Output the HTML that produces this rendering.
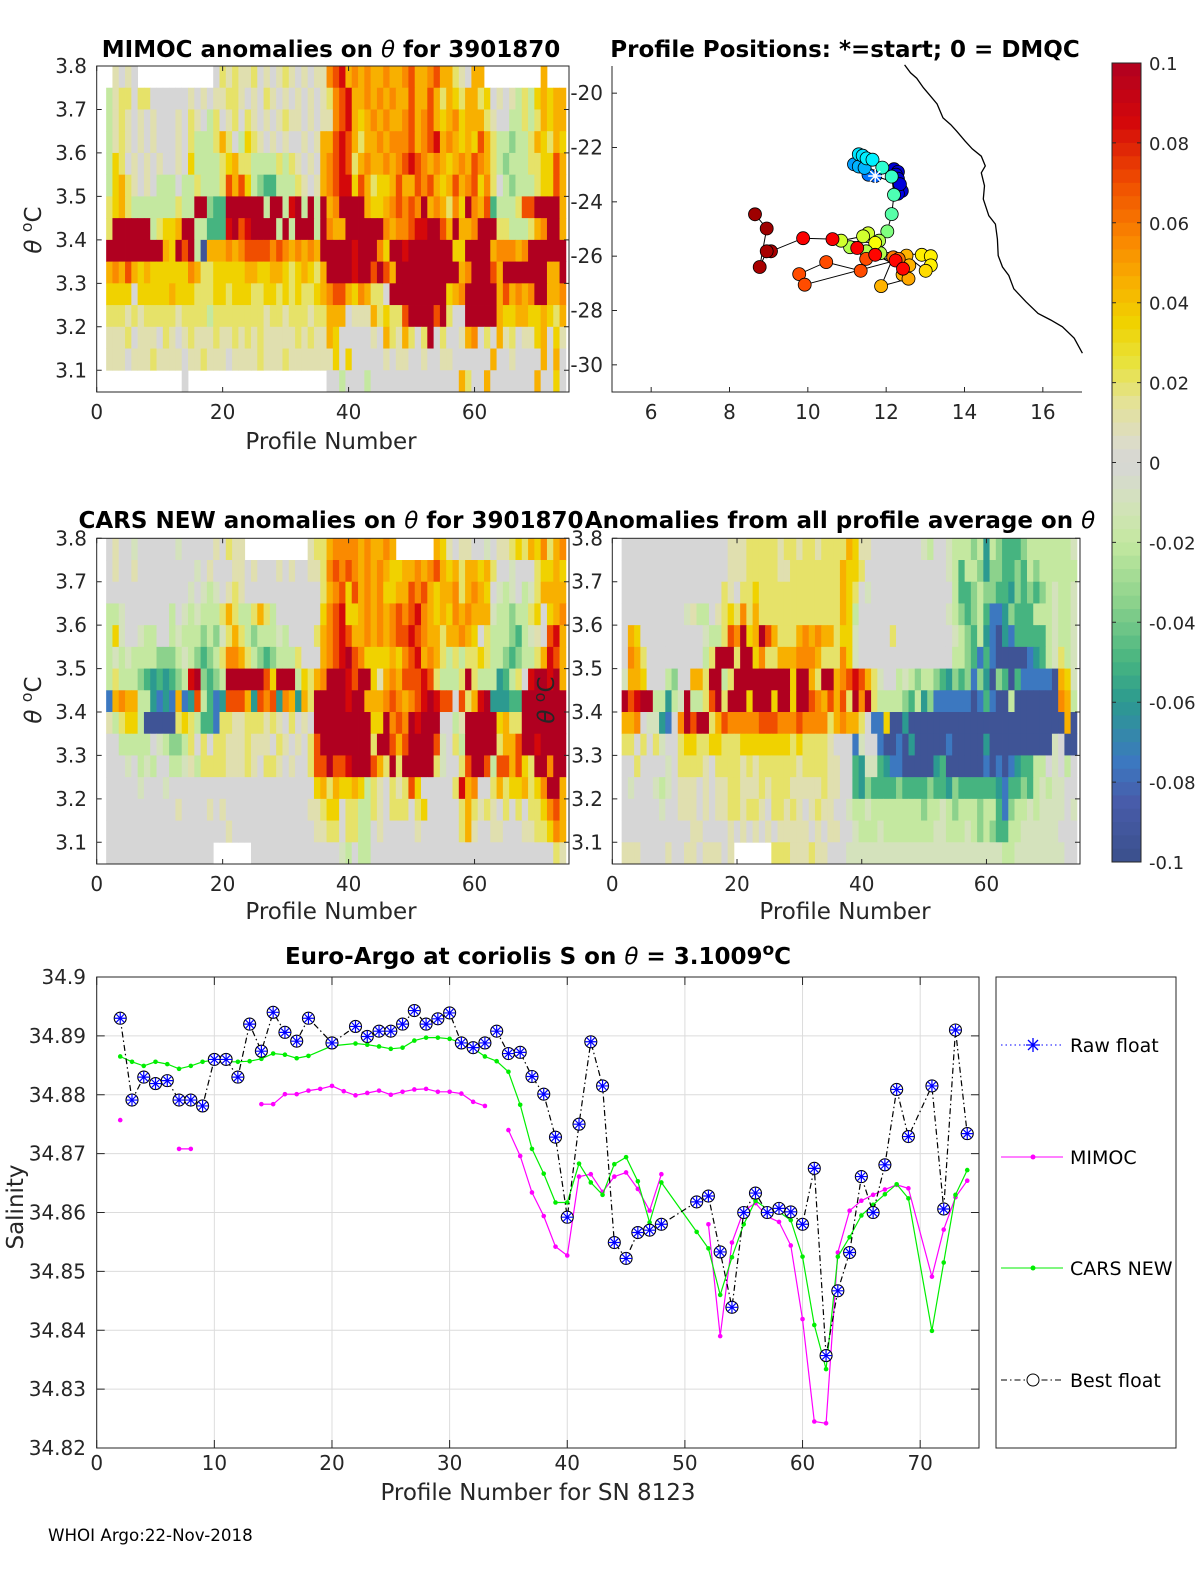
<!DOCTYPE html>
<html><head><meta charset="utf-8">
<style>
body{margin:0;background:#fff}
svg{display:block;font-family:"DejaVu Sans","Liberation Sans",sans-serif}
.t{font-size:20px;fill:#262626}
.al{font-size:23px;fill:#262626}
.tb{font-size:23px;font-weight:bold;fill:#000}
.cb{font-size:18px;fill:#262626}
</style></head>
<body>
<svg id="fig" width="1200" height="1575" viewBox="0 0 1200 1575" xmlns="http://www.w3.org/2000/svg">
<rect x="0" y="0" width="1200" height="1575" fill="#fff"/>
<g id="heat1"></g>
<g id="heat2"></g>
<g id="heat3"></g>
<g id="mapg"></g>
<g id="cbar"></g>
<g id="bottom"></g>
<g id="axes"></g>

<text class="tb" x="331" y="57" text-anchor="middle">MIMOC anomalies on <tspan font-style="italic" font-weight="normal">θ</tspan>  for 3901870</text>
<text class="tb" x="845" y="57" text-anchor="middle">Profile Positions: *=start; 0 = DMQC</text>
<text class="tb" x="331" y="528" text-anchor="middle">CARS NEW anomalies on <tspan font-style="italic" font-weight="normal">θ</tspan> for 3901870</text>
<text class="tb" x="840" y="528" text-anchor="middle">Anomalies from all profile average on <tspan font-style="italic" font-weight="normal">θ</tspan></text>
<text class="tb" x="538" y="964" text-anchor="middle">Euro-Argo at coriolis S on <tspan font-style="italic" font-weight="normal">θ</tspan> = 3.1009<tspan dy="-9" font-size="17">o</tspan><tspan dy="9">C</tspan></text>

<text class="al" x="331" y="449" text-anchor="middle">Profile Number</text>
<text class="al" x="331" y="919" text-anchor="middle">Profile Number</text>
<text class="al" x="845" y="919" text-anchor="middle">Profile Number</text>
<text class="al" x="538" y="1500" text-anchor="middle">Profile Number for SN 8123</text>
<text class="al" transform="translate(16,1207) rotate(-90)" text-anchor="middle" dominant-baseline="central">Salinity</text>
<text class="al" transform="translate(41,230) rotate(-90)" text-anchor="middle"><tspan font-style="italic">θ</tspan> <tspan dy="-9" font-size="16">o</tspan><tspan dy="9">C</tspan></text>
<text class="al" transform="translate(41,700) rotate(-90)" text-anchor="middle"><tspan font-style="italic">θ</tspan> <tspan dy="-9" font-size="16">o</tspan><tspan dy="9">C</tspan></text>
<text class="al" transform="translate(554,700) rotate(-90)" text-anchor="middle"><tspan font-style="italic">θ</tspan> <tspan dy="-9" font-size="16">o</tspan><tspan dy="9">C</tspan></text>
<text x="48" y="1541" font-size="16.7" fill="#000">WHOI Argo:22-Nov-2018</text>

<g id="legend">
<rect x="996" y="977" width="180" height="471" fill="#fff" stroke="#262626" stroke-width="1"/>
<g>
<line x1="1001" y1="1045" x2="1063" y2="1045" stroke="#0000ff" stroke-dasharray="1.5,3"/>
<path d="M1026,1045h14M1033,1038v14M1028,1040l10,10M1038,1040l-10,10" stroke="#0000ff" stroke-width="1.3"/>
<text x="1070" y="1052" font-size="19" fill="#000">Raw float</text></g>
<g>
<line x1="1001" y1="1157" x2="1063" y2="1157" stroke="#ff00ff"/>
<circle cx="1033" cy="1157" r="2.5" fill="#ff00ff"/>
<text x="1070" y="1164" font-size="19" fill="#000">MIMOC</text></g>
<g>
<line x1="1001" y1="1268" x2="1063" y2="1268" stroke="#00ee00"/>
<circle cx="1033" cy="1268" r="2.5" fill="#00ee00"/>
<text x="1070" y="1275" font-size="19" fill="#000">CARS NEW</text></g>
<g>
<line x1="1001" y1="1380" x2="1063" y2="1380" stroke="#000" stroke-dasharray="6,3,1.5,3"/>
<circle cx="1033" cy="1380" r="6" fill="#fff" stroke="#000"/>
<text x="1070" y="1387" font-size="19" fill="#000">Best float</text></g>
</g>
</svg>
<script>
// ---------- salinity chart data ----------
const bestProf = [2,3,4,5,6,7,8,9,10,11,12,13,14,15,16,17,18,20,22,23,24,25,26,27,28,29,30,31,32,33,34,35,36,37,38,39,40,41,42,43,44,45,46,47,48,51,52,53,54,55,56,57,58,59,60,61,62,63,64,65,66,67,68,69,71,72,73,74];
const bestSal = [34.8930,34.8791,34.8830,34.8819,34.8824,34.8791,34.8791,34.8781,34.8860,34.8860,34.8830,34.8920,34.8874,34.8940,34.8906,34.8891,34.8930,34.8888,34.8916,34.8899,34.8908,34.8908,34.8920,34.8943,34.8920,34.8929,34.8939,34.8888,34.8880,34.8888,34.8908,34.8870,34.8872,34.8831,34.8801,34.8728,34.8592,34.8750,34.8890,34.8815,34.8549,34.8522,34.8566,34.8570,34.8580,34.8618,34.8628,34.8533,34.8439,34.8600,34.8633,34.8600,34.8607,34.8601,34.8580,34.8675,34.8357,34.8467,34.8532,34.8661,34.8600,34.8681,34.8809,34.8729,34.8815,34.8606,34.8910,34.8734];
const mimocProf = [2,null,7,8,null,14,15,16,17,18,19,20,21,22,23,24,25,26,27,28,29,30,31,32,33,null,35,36,37,38,39,40,41,42,43,44,45,46,47,48,null,52,53,54,55,56,57,58,59,60,61,62,63,64,65,66,67,68,69,71,72,73,74];
const mimocSal = [34.8757,null,34.8708,34.8708,null,34.8784,34.8784,34.8801,34.8801,34.8807,34.8810,34.8815,34.8806,34.8799,34.8803,34.8807,34.8800,34.8805,34.8809,34.8810,34.8805,34.8805,34.8802,34.8788,34.8781,null,34.8740,34.8696,34.8634,34.8594,34.8542,34.8527,34.8661,34.8665,34.8635,34.8661,34.8668,34.8640,34.8603,34.8665,null,34.8580,34.8390,34.8549,34.8603,34.8616,34.8593,34.8584,34.8544,34.8419,34.8245,34.8242,34.8532,34.8603,34.8620,34.8630,34.8639,34.8647,34.8641,34.8491,34.8571,34.8626,34.8654];
const carsProf = [2,3,4,5,6,7,8,9,10,11,12,13,14,15,16,17,18,20,22,23,24,25,26,27,28,29,30,31,32,33,34,35,36,37,38,39,40,41,42,43,44,45,46,47,48,51,52,53,54,55,56,57,58,59,60,61,62,63,64,65,66,67,68,69,71,72,73,74];
const carsSal = [34.8865,34.8856,34.8849,34.8856,34.8852,34.8844,34.8849,34.8856,34.8859,34.8856,34.8856,34.8857,34.8861,34.8870,34.8868,34.8862,34.8866,34.8883,34.8887,34.8885,34.8882,34.8878,34.8880,34.8892,34.8897,34.8897,34.8895,34.8888,34.8879,34.8865,34.8857,34.8839,34.8783,34.8708,34.8666,34.8617,34.8617,34.8683,34.8651,34.8630,34.8682,34.8694,34.8653,34.8583,34.8651,34.8567,34.8539,34.8460,34.8524,34.8580,34.8620,34.8606,34.8601,34.8587,34.8525,34.8409,34.8334,34.8525,34.8558,34.8595,34.8613,34.8631,34.8648,34.8624,34.8399,34.8515,34.8630,34.8672];
const salTicks = [34.82,34.83,34.84,34.85,34.86,34.87,34.88,34.89,34.9];
const salTickLabels = ["34.82","34.83","34.84","34.85","34.86","34.87","34.88","34.89","34.9"];
const profTicks = [0,10,20,30,40,50,60,70];

// ---------- heatmap data (codes per theta row, profiles 2..74) ----------
const thetaTicks = [3.1,3.2,3.3,3.4,3.5,3.6,3.7,3.8];
const heatProfTicks = [0,20,40,60];
const codeVals = {R:0.1,r:0.085,O:0.07,o:0.055,A:0.045,Y:0.035,y:0.02,p:0.01,'0':0,l:-0.01,L:-0.02,g:-0.035,G:-0.05,t:-0.06,b:-0.075,B:-0.095};
const mimocRows = [
" p0p0     |       0yp|yppy0p0pyp|0p0ppoOrAo|AoAAoAAoOA|AoOAAyp0AA|         A|   ",
"Lpyy0yy000|000p0p0ppy|yp0p0yp0p0|p0p0pyoOrA|AoAoAoAAOA|AOAyAYyAAy|Y0p0pLyLYA|YAA",
"Lpyp0p0p00|0p0yp0Ly0p|y0yp0p0pyp|p0p0ppoOrA|YAoAoAAoOA|oOAYAoYAAA|yp00LLyLyA|YAA",
"Lpyp0p0p00|0p0yLLLyAy|0LYyp0p0p0|0p0pAAOrOA|yAAoAoooOA|oOrAoAYAYO|AyLLgLLyAY|yAY",
"LYy0p0p0p0|0p0YLLLLyY|AyyLLLLyLy|p0p0AoOrOy|AoAAoAoOrO|oAoAYAoAOo|AyLgLLLyyY|YOA",
"LYAyp0p0LL|L0LLyLLLyO|AOYLgGGLLL|yp0pAoOrrY|OAyYYAOAAO|oOAYAOAoOY|oy0LgLLLyY|YOA",
"yYAyLLLLLL|LyLLRRgGGR|RRRRRLRRLr|RLRLRAoRRR|RAYYAoOoOo|RAoAyoYRoA|OGLLLyOORR|RRA",
"yRRRRRRLyY|YARRLLGGGr|ROrRRRRLRL|RRRLRoAARR|RRRRoAooOr|rRROARAAoR|RRyyLLLyAo|RRA",
"RRRRRRRRRA|YRORLBAAAo|AoOOOOoOoA|oAoARRRRRr|RRRoYRRrRR|RRRRRYYRRR|RAoooAoRRR|RRR",
"AoAOAYAYYY|YYYoAyyYYY|YYAAYYAAYy|YAYyARRRRr|RROROARRRR|RRRRRRAoRR|ROARRRRRRR|AAR",
"YYYY0YYYYY|AYYYyyyYYy|YYYyyYYyYy|YyyYAoOOAY|oAyy0RRRRR|RRRRYAoRRR|RRAOAoAoRR|AAo",
"yyypypyyyy|ypyyyyLyyy|yyyyypyypy|yypyyAAA0p|ppAyYyyORR|RRORy00RRR|RRAYYAAYYA|YyA",
"pppy0ppp0y|p0pypppypp|ypypyppppp|ypyppAY000|00p0AypAy0|yR0y00pAo0|y0Apy0ppYA|0Yp",
"ppp0pppypp|pp0ppyppp0|ppppypppyp|ppppppY0Y0|0000p0pp00|p00pp00000|0A00p0000A|0A0",
"          |  0       |          |     00L00|0L00000000|000000Ay00|A0000000A0|0Y0"];
const carsRows = [
"0p00l00000|0l00000p0y|pp        |  pyyAoooo|AoAAoA    |  AYp0pp00|l0ppyYyAYo|yAo",
"0p00p00000|0000l0p000|pp0p000p0p|00ppyoOoOo|AoAoAYYAAo|AoOAYAyAAY|Ay00l000yY|YAY",
"0000000000|000l0lLl0p|yp00000000|0000yAoOYO|AoAoYYAAOo|OAYAAoyAoA|Y0lLl0LlyA|AAA",
"LLl0000000|L0lLlLLLyA|yLLyAyL000|0000YoOrYY|AoAoAoOoOr|oAYAYoAoAA|AlLLgLLyY0|YAo",
"LYl00lLL00|LlLLLgLgly|AyLgLLLlL0|000yAoOrOA|AoAoAoOOrO|oAAyAAoAY0|yLLLgGLlp0|OrA",
"LlLlLLLLgg|gLlLgGgLyo|oAyLgGgLLL|y000AoOrRO|oYYYYAYoOr|AoAyLyLyyY|yLLgGgLLyA|rOA",
"LyLLLgGtGt|GgLrRgGgLR|RRRRROYRRR|LYyAoRRRrO|RRYpAoAOOO|rOyLLLyRyL|LLtGLy0rRR|rRA",
"bAoAALLtbt|bAbtOLGbtO|OOAtOoOtoA|tAyRRRRRrR|RAAAoOoAoO|rRrOO0OyAr|RtttGGRRRR|RRR",
"pLyYYLBBBB|ByYyLGGbyy|ppyyypyp0y|0p0RRRRRRR|RRYYRoOoRr|RRR00LpRRR|RRYAyyRRRR|RRR",
"00LLLLL0lL|ggLy0y0yyp|ppyppp0yp0|p0yORRRRRR|RRyRROAORR|RROl0yLRRR|RRyAAORRrR|RRR",
"000l0LlL00|LLlpLyyyyp|ppyp0yyp0p|00yOOROOrR|RROAyRyRRR|RRyl00yORR|OLOOAOYyRR|oRR",
"00000l000l|0000000000|0000000000|000YAyAYYA|YLyp0ypyOY|00000yrAo0|0yAyYYAyYo|RRA",
"0000000000|0p0000p0p0|0000000000|00ppyYY0yy|LLyp0yyy0y|Y00000yAyp|yp0y0y0yyY|oOA",
"0000000000|000000000p|0000000000|000ppyy0yy|LL0p00000p|000000yAp0|0pp000ppyy|YoA",
"0000000000|0000000   |   0000000|0000000lL0|LL00000000|0000000000|0000000000|0yp"];
const avgRows = [
"0000000000|0000000ppp|yyyyypyypy|ypyyyyAYpp|00000000lL|00lLLLgLtL|gGGGgLLLLL|LLl",
"0000000000|0000000ppp|yyyyyppyyy|yyyyyAYYy0|0000000000|00lLGLLgtg|gGGgGLgLLL|LLL",
"0000000000|000000yp0y|yYyyyyyyyy|yyyyyAYy0l|0000000000|000LGGgLgg|GGtgGgGgLl|LLl",
"0000000000|lpLL0pyYyo|yAyyyyyyyy|yyyyyAYL00|0000000000|00lLgGgLGb|btgGGGLLLl|LLl",
"0AY0000000|000lLLyOoR|YAROAyyyAo|AoAAyYYl00|000y000000|000lLgGLtb|BtbGGGGGLl|LLl",
"0oAy000000|000LyRRRyR|RYoyyAAAoo|oAyyyoYl00|0000000000|000LLgGbGb|BBBBBbtGLl|yLl",
"lAAY000Lg0|0AAyRRLyRR|RRRRRRRYRR|AyRRAoOrOA|yl00LlLgLL|gGtgGgbgtB|gGBGbbbbbB|AYl",
"ROrRRLLtLl|RLLyORyRRR|YRRRYRRYRR|OoAOAOyRoR|yLLLLgGLtg|bbbbbbBbGb|BBLBBBBBBB|oAL",
"AAo0lltb0o|RORRyAOooo|ooOOOoooOo|oooyAoAAy0|bbYBBtBBBB|BBBBBBBBBB|BBBBBBBBBB|BAB",
"yy0y0yl00y|YYyyYYyyyY|YYYYYYYyYy|yyyp000bl0|0bBBbBtBBB|BBbBBBBBtB|BBBBBBBBBl|0BB",
"00y0000l0y|yyyp0yyyyp|ypyyyyyypy|yyypp00Gtl|lGtbbBBBBB|tGBBBBBBbB|bBbtGGLL0l|0L0",
"0l000lLl0p|pp0p0ppyyp|ppypyyyppp|ppypp00Gtg|GGGGgGGGGg|GGtgGGGGGG|tbGGgGLlLl|l00",
"000000l00p|pp0p0ppyyp|yyp0yypyp0|pypp00lLLl|LLLLLLLLgL|LlLgLLLgLL|GbgLLlLlll|l0l",
"0000000000|0pp0000p0p|0p0p0ppppp|0p0pp00lLL|LlLLLLLLLL|llLLLlLgLg|GGLLllllll|000",
"ppp0000p00|pp0ppp0p  |    yyyppp|ypp000llll|llllllllll|llllllllll|lLLlllllll|l00"];

// ---------- map data ----------
const trackLon = [12.20,12.30,12.25,12.30,12.35,12.40,12.30,12.35,11.72,11.55,11.18,11.35,11.30,11.45,11.30,11.40,11.50,11.65,11.90,12.14,12.20,12.14,12.03,11.82,11.85,11.08,11.54,11.41,10.85,11.72,11.49,12.91,13.14,13.14,13.01,12.52,12.59,12.42,12.57,11.87,12.18,12.32,11.49,11.35,10.47,9.78,9.92,12.24,12.43,11.72,11.26,10.63,9.88,9.06,8.95,8.77,8.95,8.65];
const trackLat = [-22.80,-22.90,-23.00,-23.15,-23.45,-23.60,-23.70,-23.35,-23.05,-23.00,-22.62,-22.70,-22.70,-22.75,-22.25,-22.30,-22.40,-22.45,-22.74,-23.07,-23.74,-24.45,-25.09,-25.43,-25.89,-25.67,-25.16,-25.27,-25.43,-25.51,-25.82,-25.95,-26.00,-26.34,-26.54,-25.98,-26.34,-26.68,-26.83,-27.10,-26.04,-26.10,-26.10,-26.54,-26.22,-26.66,-27.05,-26.16,-26.46,-25.95,-25.70,-25.37,-25.34,-25.82,-25.82,-26.40,-24.98,-24.46];
const trackT = [0.08,0.08,0.09,0.08,0.09,0.08,0.1,0.09,0.22,0.24,0.28,0.28,0.3,0.3,0.35,0.35,0.36,0.36,0.42,0.43,0.45,0.46,0.5,0.55,0.55,0.55,0.58,0.58,0.58,0.62,0.55,0.64,0.64,0.64,0.66,0.7,0.7,0.7,0.71,0.7,0.76,0.76,0.8,0.8,0.8,0.8,0.8,0.87,0.87,0.87,0.88,0.88,0.88,0.96,0.96,0.96,0.97,0.97];
const coastLon = [12.47,12.62,12.78,12.95,13.14,13.30,13.45,13.65,13.80,14.02,14.20,14.43,14.53,14.43,14.51,14.48,14.62,14.79,14.84,14.86,14.97,15.13,15.26,15.57,15.88,16.20,16.50,16.80,17.01];
const coastLat = [-18.96,-19.25,-19.45,-19.80,-20.12,-20.40,-20.91,-21.16,-21.40,-21.77,-22.05,-22.32,-22.68,-22.93,-23.41,-23.90,-24.51,-24.82,-25.37,-25.98,-26.40,-26.71,-27.20,-27.68,-28.11,-28.35,-28.60,-29.02,-29.57];
const lonTicks = [6,8,10,12,14,16];
const latTicks = [-20,-22,-24,-26,-28,-30];
const cbTicks = [0.1,0.08,0.06,0.04,0.02,0,-0.02,-0.04,-0.06,-0.08,-0.1];
const cbTickLabels = ["0.1","0.08","0.06","0.04","0.02","0","-0.02","-0.04","-0.06","-0.08","-0.1"];

const NS = "http://www.w3.org/2000/svg";
function mk(tag, attrs, parent){const e=document.createElementNS(NS,tag);for(const k in attrs)e.setAttribute(k,attrs[k]);parent.appendChild(e);return e;}

const colorStops = [[0.1,[176,0,32]],[0.085,[212,8,10]],[0.07,[240,78,0]],[0.055,[250,138,0]],[0.045,[248,176,0]],[0.035,[240,210,0]],[0.025,[232,226,60]],[0.015,[228,226,150]],[0.005,[220,220,200]],[0,[214,214,214]],[-0.01,[212,226,188]],[-0.02,[196,232,160]],[-0.035,[140,210,140]],[-0.05,[70,180,128]],[-0.06,[44,154,144]],[-0.075,[60,120,192]],[-0.085,[72,92,170]],[-0.1,[58,80,140]]];
function heatColor(v){
  if(v>=colorStops[0][0])return 'rgb('+colorStops[0][1].join(',')+')';
  for(let i=0;i<colorStops.length-1;i++){const a=colorStops[i],b=colorStops[i+1];
    if(v<=a[0]&&v>=b[0]){const f=(a[0]-v)/(a[0]-b[0]);const c=a[1].map((x,j)=>Math.round(x+(b[1][j]-x)*f));return 'rgb('+c.join(',')+')';}}
  return 'rgb('+colorStops[colorStops.length-1][1].join(',')+')';
}
function parseRow(s){const parts=s.split('|');let out='';parts.forEach((c,i)=>{const n=(i===parts.length-1)?3:10;out+=c.padEnd(n,' ').slice(0,n);});return out;}

function axisBox(parent, x0, y0, x1, y1, name){
  const r=mk('rect',{x:x0,y:y0,width:x1-x0,height:y1-y0,fill:'none',stroke:'#262626','stroke-width':1},parent);
  
  
}

function drawHeat(gid, rowsData, x0, x1, yTop, yBot, panel, tickLabelsLeft){
  const g=document.getElementById(gid);
  const sx=(x1-x0)/75;
  const rh=(yBot-yTop)/15;
  const px=p=>x0+p*sx;
  const ty=v=>yTop+(3.8-v)/0.05*rh;
  rowsData.forEach((rs,r)=>{
    const row=parseRow(rs);
    for(let i=0;i<row.length;i++){
      const ch=row[i];
      if(ch===' '||!(ch in codeVals))continue;
      const p=2+i;
      const c=mk('rect',{x:px(p-0.5).toFixed(2),y:(yTop+r*rh).toFixed(2),width:(sx+0.4).toFixed(2),height:(rh+0.4).toFixed(2),fill:heatColor(codeVals[ch])},g);
      
      
    }
  });
  axisBox(g,x0,yTop,x1,yBot,panel+'-axes-box');
  thetaTicks.forEach(v=>{
    const y=ty(v);
    const t=mk('path',{d:`M${x0},${y}h5M${x1},${y}h-5`,stroke:'#262626'},g);
    
    
    const l=mk('text',{x:tickLabelsLeft,y:y+7,'text-anchor':'end',class:'t'},g);
    l.textContent=v.toFixed(1);
    
    
  });
  heatProfTicks.forEach(p=>{
    const x=px(p);
    const t=mk('path',{d:`M${x},${yBot}v-5M${x},${yTop}v5`,stroke:'#262626'},g);
    
    
    const l=mk('text',{x:x,y:yBot+27,'text-anchor':'middle',class:'t'},g);
    l.textContent=String(p);
    
    
  });
}
drawHeat('heat1', mimocRows, 96.7, 569, 66, 392, 'mimoc', 87);
drawHeat('heat2', carsRows, 96.7, 569, 538.3, 864, 'cars', 87);
drawHeat('heat3', avgRows, 612.3, 1080, 538.3, 864, 'average', 603);

(function(){
  const g=document.getElementById('mapg');
  const X0=612,X1=1082,Y0=66,Y1=392;
  const mx=lon=>X0+(lon-5)*(X1-X0)/12;
  const my=lat=>Y0+(-19-lat)*(Y1-Y0)/12;
  function jet(t){const r=Math.min(Math.max(Math.min(4*t-1.5,-4*t+4.5),0),1);const gg=Math.min(Math.max(Math.min(4*t-0.5,-4*t+3.5),0),1);const b=Math.min(Math.max(Math.min(4*t+0.5,-4*t+2.5),0),1);return `rgb(${Math.round(r*255)},${Math.round(gg*255)},${Math.round(b*255)})`;}
  let d='';coastLon.forEach((lo,i)=>{d+=(i?'L':'M')+mx(lo).toFixed(1)+','+my(coastLat[i]).toFixed(1);});
  const coast=mk('path',{d:d,fill:'none',stroke:'#000','stroke-width':1.3},g);
  
  
  let td='';trackLon.forEach((lo,i)=>{td+=(i?'L':'M')+mx(lo).toFixed(1)+','+my(trackLat[i]).toFixed(1);});
  const tr=mk('path',{d:td,fill:'none',stroke:'#000','stroke-width':1},g);
  
  
  trackLon.forEach((lo,i)=>{
    const c=mk('circle',{cx:mx(lo).toFixed(1),cy:my(trackLat[i]).toFixed(1),r:6.5,fill:jet(trackT[i]),stroke:'#000','stroke-width':0.8},g);
    
    
  });
  const sx=mx(trackLon[8]),sy=my(trackLat[8]);
  const st=mk('path',{d:`M${sx-7},${sy}h14M${sx},${sy-7}v14M${sx-5},${sy-5}l10,10M${sx+5},${sy-5}l-10,10`,stroke:'#fff','stroke-width':1.5},g);
  
  
  const ax=mk('path',{d:`M${X0},${Y0}V${Y1}H${X1}`,fill:'none',stroke:'#262626'},g);
  
  
  lonTicks.forEach(v=>{
    const x=mx(v);
    const t=mk('path',{d:`M${x},${Y1}v-5`,stroke:'#262626'},g);
    
    
    const l=mk('text',{x:x,y:Y1+27,'text-anchor':'middle',class:'t'},g);
    l.textContent=String(v);
    
    
  });
  latTicks.forEach(v=>{
    const y=my(v);
    const t=mk('path',{d:`M${X0},${y}h5`,stroke:'#262626'},g);
    
    
    const l=mk('text',{x:603,y:y+7,'text-anchor':'end',class:'t'},g);
    l.textContent=String(v);
    
    
  });
})();

(function(){
  const g=document.getElementById('cbar');
  const X0=1112,X1=1141,Y0=63,Y1=862;
  const n=60;
  for(let i=0;i<n;i++){
    const v=0.1-(i+0.5)*0.2/n;
    const r=mk('rect',{x:X0,y:(Y0+i*(Y1-Y0)/n).toFixed(2),width:X1-X0,height:((Y1-Y0)/n+0.5).toFixed(2),fill:heatColor(v)},g);
    
    
  }
  axisBox(g,X0,Y0,X1,Y1,'colorbar-box');
  cbTicks.forEach((v,i)=>{
    const y=Y0+(0.1-v)/0.2*(Y1-Y0);
    const t=mk('path',{d:`M${X1},${y}h-4M${X0},${y}h4`,stroke:'#262626'},g);
    
    
    const l=mk('text',{x:1149,y:y+7,class:'cb'},g);
    l.textContent=cbTickLabels[i];
    
    
  });
})();

(function(){
  const g=document.getElementById('bottom');
  const X0=96.7,X1=979,Y0=977,Y1=1448;
  const sx=p=>X0+p*(X1-X0)/75;
  const sy=v=>Y1-(v-34.82)/0.08*(Y1-Y0);
  profTicks.forEach(p=>{
    const gl=mk('line',{x1:sx(p),y1:Y0,x2:sx(p),y2:Y1,stroke:'#dcdcdc'},g);
    
    
  });
  salTicks.forEach(v=>{
    const gl=mk('line',{x1:X0,y1:sy(v),x2:X1,y2:sy(v),stroke:'#dcdcdc'},g);
    
    
  });
  function line(profs, vals, color, dash, name){
    let d='',pen=false;
    profs.forEach((p,i)=>{if(p===null||vals[i]===null){pen=false;return;}d+=(pen?'L':'M')+sx(p).toFixed(1)+','+sy(vals[i]).toFixed(1);pen=true;});
    const a={d:d,fill:'none',stroke:color,'stroke-width':1.2};if(dash)a['stroke-dasharray']=dash;
    const e=mk('path',a,g);
    
    
  }
  line(mimocProf,mimocSal,'#ff00ff',null,'mimoc-line');
  mimocProf.forEach((p,i)=>{if(p===null)return;
    const c=mk('circle',{cx:sx(p),cy:sy(mimocSal[i]),r:2.3,fill:'#ff00ff'},g);
    
    
  });
  line(carsProf,carsSal,'#00ee00',null,'cars-line');
  carsProf.forEach((p,i)=>{
    const c=mk('circle',{cx:sx(p),cy:sy(carsSal[i]),r:2.3,fill:'#00ee00'},g);
    
    
  });
  line(bestProf,bestSal,'#000','6,3,1.5,3','best-float-line');
  bestProf.forEach((p,i)=>{
    const x=sx(p),y=sy(bestSal[i]);
    const c=mk('circle',{cx:x,cy:y,r:6,fill:'#fff',stroke:'#000','stroke-width':1.1},g);
    
    
    const s=mk('path',{d:`M${x-6},${y}h12M${x},${y-6}v12M${x-4.2},${y-4.2}l8.4,8.4M${x+4.2},${y-4.2}l-8.4,8.4`,stroke:'#0000ff','stroke-width':1.2},g);
    
    
  });
  axisBox(g,X0,Y0,X1,Y1,'salinity-axes-box');
  salTicks.forEach((v,i)=>{
    const y=sy(v);
    const t=mk('path',{d:`M${X0},${y}h8M${X1},${y}h-8`,stroke:'#262626'},g);
    
    
    const l=mk('text',{x:86,y:y+7,'text-anchor':'end',class:'t'},g);
    l.textContent=salTickLabels[i];
    
    
  });
  profTicks.forEach(p=>{
    const x=sx(p);
    const t=mk('path',{d:`M${x},${Y1}v-8M${x},${Y0}v8`,stroke:'#262626'},g);
    
    
    const l=mk('text',{x:x,y:Y1+22,'text-anchor':'middle',class:'t'},g);
    l.textContent=String(p);
    
    
  });
})();
</script>
</body></html>
